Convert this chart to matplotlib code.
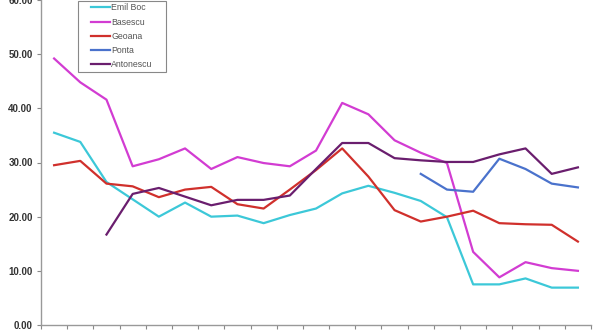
import numpy as np
import matplotlib
matplotlib.use("Agg")
import matplotlib.pyplot as plt
from matplotlib.patches import Rectangle

nan = np.nan
series_names = ["Emil Boc", "Basescu", "Geoana", "Ponta", "Antonescu"]
emil_boc = [35.5, 33.8, 26.4, 23.2, 20.0, 22.6, 20.0, 20.2, 18.8, 20.3, 21.5,
            24.3, 25.7, 24.4, 22.9, 19.9, 7.5, 7.5, 8.6, 6.9, 6.9]
basescu = [49.2, 44.8, 41.6, 29.3, 30.6, 32.6, 28.8, 31.0, 29.9, 29.3, 32.2,
           41.0, 38.9, 34.1, 31.8, 29.9, 13.5, 8.8, 11.6, 10.5, 10.0]
geoana = [29.5, 30.3, 26.1, 25.6, 23.6, 25.0, 25.5, 22.3, 21.5, 25.0, 28.6,
          32.6, 27.4, 21.2, 19.1, 20.0, 21.1, 18.8, 18.6, 18.5, 15.4]
ponta = [nan] * 14 + [27.9, 25.0, 24.6, 30.7, 28.8, 26.1, 25.4]
antonescu = [nan, nan, 16.7, 24.2, 25.3, 23.7, 22.1, 23.1, 23.1, 23.9, 28.8,
             33.6, 33.6, 30.8, 30.4, 30.1, 30.1, 31.5, 32.6, 27.9, 29.1]
colors = ["#3CC8D8", "#D23CD2", "#D0302C", "#4A72CC", "#6A1E6E"]
y_ticks = [0, 10, 20, 30, 40, 50, 60]

plt.rcParams["font.family"] = ["Liberation Sans", "DejaVu Sans"]

W, H = 600, 334
fig = plt.figure(figsize=(6.0, 3.34), dpi=100)
ax = fig.add_axes([41 / W, 1 - 325 / H, 550 / W, 325 / H])
x = np.arange(len(emil_boc))
lines = []
for name, vals, c in zip(series_names, [emil_boc, basescu, geoana, ponta, antonescu], colors):
    ln, = ax.plot(x, vals, color=c, lw=1.6, label=name, solid_joinstyle="round")
    lines.append(ln)

ax.set_xlim(-0.5, len(x) - 0.5)
ax.set_ylim(0, 60)
ax.set_xticks(np.arange(len(x) + 1) - 0.5)
ax.set_xticklabels([])
ax.set_yticks(y_ticks)
ax.set_yticklabels([f"{v:.2f}" for v in y_ticks], fontsize=7, color="#333333",
                   fontweight="bold")
ax.tick_params(axis="both", direction="out", length=3, width=0.8, color="#888888", pad=3)
for s in ["top", "right"]:
    ax.spines[s].set_visible(False)
for s in ["left", "bottom"]:
    ax.spines[s].set_color("#999999")
    ax.spines[s].set_linewidth(1.0)

# legend box
fig.patches.append(Rectangle((78 / W, 1 - 72 / H), 88 / W, 71 / H, transform=fig.transFigure,
                             facecolor="white", edgecolor="#888888", lw=0.8, zorder=4))
leg = fig.legend(handles=lines, loc="upper left", bbox_to_anchor=(91 / W, 1 - 3.5 / H),
                 borderaxespad=0, borderpad=0, fontsize=6.3, handlelength=2.2,
                 handletextpad=0.1, labelspacing=0.58, frameon=False)
leg.set_zorder(5)
for t in leg.get_texts():
    t.set_color("#555555")

fig.savefig("out.png", dpi=100)
